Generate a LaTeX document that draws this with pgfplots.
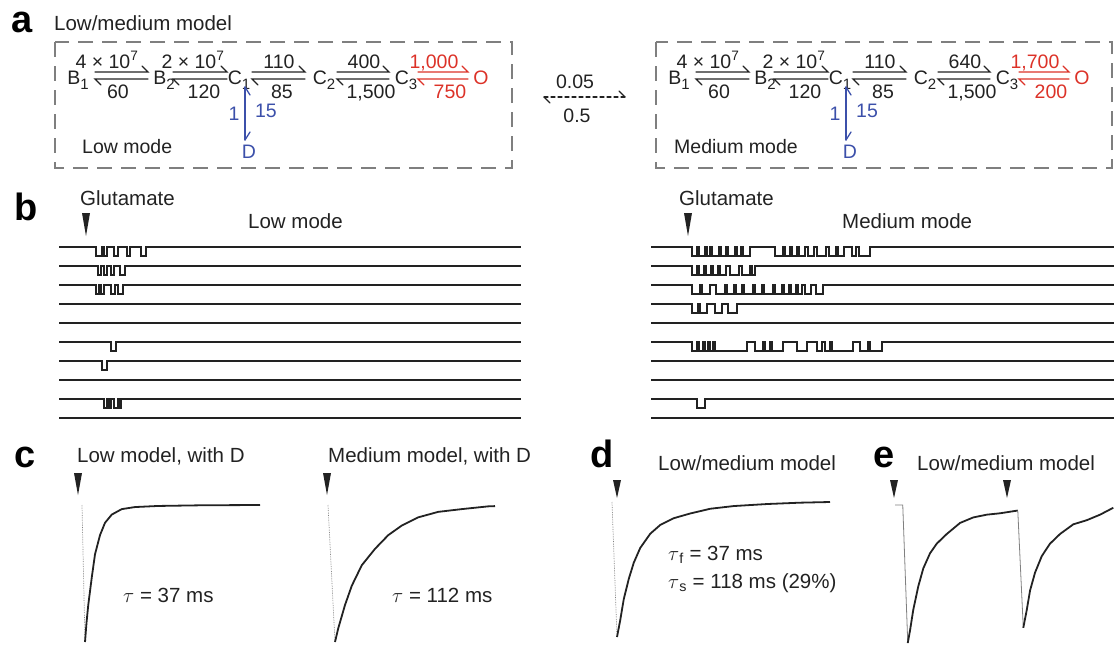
\documentclass[border=0pt]{standalone}
\usepackage{fontspec}
\setmainfont{Liberation Sans}
\usepackage{pgfplots}
\pgfplotsset{compat=1.18}

\definecolor{ink}{HTML}{222222}
\definecolor{rrate}{HTML}{DC3228}
\definecolor{brate}{HTML}{3C50AA}
\definecolor{boxgray}{HTML}{7F7F7F}

\newcommand\sub[1]{\raisebox{-0.5ex}{\fontsize{15}{15}\selectfont #1}}

\tikzset{
  lab/.style={font=\fontsize{20.5}{24}\selectfont, text=ink, inner sep=0pt, anchor=base west},
  sch/.style={font=\fontsize{19.5}{22}\selectfont, text=ink, inner sep=0pt, anchor=base},
  big/.style={font=\fontsize{38}{40}\selectfont\bfseries, inner sep=0pt, anchor=base west},
  harp/.style={line width=1.3pt, line cap=round},
}
\pgfplotsset{
  panel/.style={anchor=south west, scale only axis, hide axis, clip=false},
  trace/.style={ink, line width=1.8pt, line join=round},
  onset/.style={gray, line width=0.7pt, densely dotted},
  chan/.style={const plot, ink, line width=2.4pt},
}

% forward / backward harpoons with their rates
\newcommand\rxn[7]{%
  \draw[harp,#7] (#1,-72) -- (#2,-72) -- ++(-6,6);
  \draw[harp,#7] (#2,-79) -- (#1,-79) -- ++(6,-6);
  \node[sch,text=#7] at (#4,-68) {#3};
  \node[sch,text=#7] at (#6,-98) {#5};}

% one kinetic scheme: shift, C2->C3, C3->O, O->C3, mode name, its x
\newcommand\scheme[6]{%
\begin{scope}[xshift=#1pt]
  \node[sch] at (78,-84) {B\sub{1}};
  \node[sch] at (164,-84) {B\sub{2}};
  \node[sch] at (239,-84) {C\sub{1}};
  \node[sch] at (324,-84) {C\sub{2}};
  \node[sch] at (406,-84) {C\sub{3}};
  \node[sch,text=rrate] at (481,-84) {O};
  \rxn{95}{148}{4 × 10\textsuperscript{7}}{107}{60}{118}{ink}
  \rxn{173}{227}{2 × 10\textsuperscript{7}}{193}{120}{204}{ink}
  \rxn{252}{305}{110}{279}{85}{282}{ink}
  \rxn{337}{389}{#2}{364}{1,500}{371}{ink}
  \rxn{418}{468}{#3}{434}{#4}{450}{rrate}
  \draw[harp,brate] (245,-87) -- (245,-140);
  \draw[harp,brate] (245,-87) -- (250,-95);
  \draw[harp,brate] (245,-140) -- (250,-132);
  \node[sch,text=brate] at (234,-120) {1};
  \node[sch,text=brate] at (266,-117) {15};
  \node[sch,text=brate] at (249,-158) {D};
  \node[sch,anchor=base west] at (#6,-153) {#5};
\end{scope}}

\newcommand\glu[3]{\fill[ink] (#1-4,-#2) -- (#1+4,-#2) -- (#1,-#3) -- cycle;}

\begin{document}
\begin{tikzpicture}
\begin{scope}[x=1pt,y=1pt]
\useasboundingbox (0,0) rectangle (1117,-648);

% ---------------- panel a ----------------
\node[big] at (11,-32) {a};
\node[lab] at (54,-30) {Low/medium model};
\draw[boxgray, line width=2pt, dash pattern=on 15pt off 9pt] (55,-42) rectangle (512,-168);
\draw[boxgray, line width=2pt, dash pattern=on 15pt off 9pt] (656,-42) rectangle (1112,-168);
\scheme{0}{400}{1,000}{750}{Low mode}{82}
\scheme{601}{640}{1,700}{200}{Medium mode}{73}

\node[sch] at (575,-88) {0.05};
\node[sch] at (577,-122) {0.5};
\draw[harp, ink, dash pattern=on 4pt off 3pt] (544,-97) -- (625,-97);
\draw[harp, ink] (625,-97) -- (619,-91);
\draw[harp, ink] (544,-97) -- (550,-103);

% ---------------- panel b ----------------
\node[big] at (14,-220) {b};
\node[lab] at (80,-205) {Glutamate};
\glu{86}{213}{236}
\node[lab] at (248,-228) {Low mode};
\node[lab] at (679,-205) {Glutamate};
\glu{688}{213}{236}
\node[lab] at (842,-228) {Medium mode};

% ---------------- panel c ----------------
\node[big] at (14,-467) {c};
\node[lab] at (77,-462) {Low model, with D};
\glu{78}{473}{495}
\node[lab] at (328,-462) {Medium model, with D};
\glu{327}{473}{495}
\node[lab] at (123,-602) {$\tau$ = 37 ms};
\node[lab] at (392,-602) {$\tau$ = 112 ms};

% ---------------- panel d ----------------
\node[big] at (590,-467) {d};
\node[lab] at (658,-470) {Low/medium model};
\glu{617}{480}{498}
\node[lab] at (668,-560) {$\tau$\textsubscript{f} = 37 ms};
\node[lab] at (668,-588) {$\tau$\textsubscript{s} = 118 ms (29\%)};

% ---------------- panel e ----------------
\node[big] at (873,-467) {e};
\node[lab] at (917,-470) {Low/medium model};
\glu{894}{480}{498}
\glu{1007}{480}{498}
\end{scope}

% single-channel sweeps, low mode: time in ms, one row per sweep
\begin{axis}[panel, at={(59pt,-427.5pt)}, width=462pt, height=190pt,
  xmin=-54, xmax=870, ymin=-19, ymax=1]
\addplot[chan] coordinates {(-54,0)(20,-0.95)(32,0)(36,-0.95)(42,0)(56,-0.95)(64,0)(82,-0.95)(88,0)(110,-0.95)(120,0)(870,0)};
\addplot[chan] coordinates {(-54,-2)(24,-2.95)(30,-2)(36,-2.95)(42,-2)(50,-2.95)(56,-2)(68,-2.95)(78,-2)(870,-2)};
\addplot[chan] coordinates {(-54,-4)(20,-4.95)(26,-4)(30,-4.95)(36,-4)(50,-4.95)(58,-4)(64,-4.95)(74,-4)(870,-4)};
\addplot[chan] coordinates {(-54,-6)(870,-6)};
\addplot[chan] coordinates {(-54,-8)(870,-8)};
\addplot[chan] coordinates {(-54,-10)(50,-10.95)(60,-10)(870,-10)};
\addplot[chan] coordinates {(-54,-12)(32,-12.95)(42,-12)(870,-12)};
\addplot[chan] coordinates {(-54,-14)(870,-14)};
\addplot[chan] coordinates {(-54,-16)(36,-16.95)(42,-16)(46,-16.95)(50,-16)(56,-16.95)(64,-16)(66,-16.95)(70,-16)(870,-16)};
\addplot[chan] coordinates {(-54,-18)(870,-18)};
\end{axis}

% medium mode
\begin{axis}[panel, at={(651pt,-427.5pt)}, width=463pt, height=190pt,
  xmin=-74, xmax=852, ymin=-19, ymax=1]
\addplot[chan] coordinates {(-74,0)(8,-0.95)(18,0)(22,-0.95)(34,0)(38,-0.95)(44,0)(48,-0.95)(62,0)(66,-0.95)(76,0)(80,-0.95)(94,0)(98,-0.95)(106,0)(110,-0.95)(124,0)(174,-0.95)(190,0)(194,-0.95)(204,0)(208,-0.95)(218,0)(222,-0.95)(234,0)(240,-0.95)(252,0)(258,-0.95)(276,0)(282,-0.95)(296,0)(300,-0.95)(312,0)(328,-0.95)(336,0)(342,-0.95)(364,0)(852,0)};
\addplot[chan] coordinates {(-74,-2)(8,-2.95)(18,-2)(22,-2.95)(32,-2)(36,-2.95)(46,-2)(50,-2.95)(60,-2)(64,-2.95)(76,-2)(84,-2.95)(102,-2)(108,-2.95)(124,-2)(128,-2.95)(134,-2)(852,-2)};
\addplot[chan] coordinates {(-74,-4)(8,-4.95)(24,-4)(28,-4.95)(44,-4)(56,-4.95)(74,-4)(78,-4.95)(92,-4)(96,-4.95)(108,-4)(112,-4.95)(130,-4)(134,-4.95)(148,-4)(152,-4.95)(170,-4)(174,-4.95)(188,-4)(192,-4.95)(202,-4)(206,-4.95)(216,-4)(220,-4.95)(228,-4)(234,-4.95)(246,-4)(256,-4.95)(270,-4)(852,-4)};
\addplot[chan] coordinates {(-74,-6)(8,-6.95)(20,-6)(24,-6.95)(38,-6)(54,-6.95)(68,-6)(80,-6.95)(98,-6)(852,-6)};
\addplot[chan] coordinates {(-74,-8)(852,-8)};
\addplot[chan] coordinates {(-74,-10)(8,-10.95)(18,-10)(22,-10.95)(30,-10)(34,-10.95)(40,-10)(44,-10.95)(50,-10)(54,-10.95)(118,-10)(134,-10.95)(150,-10)(154,-10.95)(164,-10)(168,-10.95)(190,-10)(218,-10.95)(238,-10)(258,-10.95)(268,-10)(274,-10.95)(284,-10)(288,-10.95)(330,-10)(344,-10.95)(360,-10)(364,-10.95)(388,-10)(852,-10)};
\addplot[chan] coordinates {(-74,-12)(852,-12)};
\addplot[chan] coordinates {(-74,-14)(852,-14)};
\addplot[chan] coordinates {(-74,-16)(18,-16.95)(34,-16)(852,-16)};
\addplot[chan] coordinates {(-74,-18)(852,-18)};
\end{axis}

% panel c: normalised current, time in ms
\begin{axis}[panel, at={(82pt,-642pt)}, width=178pt, height=137pt,
  xmin=0, xmax=712, ymin=-1, ymax=0]
\addplot[onset] coordinates {(0,0)(12,-1)};
\addplot[trace] coordinates {(12,-1)(18,-0.86)(25,-0.73)(39,-0.53)(52,-0.36)(72,-0.22)(92,-0.13)(119,-0.07)(159,-0.03)(212,-0.015)(304,-0.007)(480,-0.002)(712,0)};
\end{axis}

\begin{axis}[panel, at={(328pt,-642pt)}, width=167pt, height=137pt,
  xmin=0, xmax=668, ymin=-1, ymax=0]
\addplot[onset] coordinates {(0,0)(28,-1)};
\addplot[trace] coordinates {(28,-1)(41,-0.90)(68,-0.73)(95,-0.59)(135,-0.44)(188,-0.32)(241,-0.22)(295,-0.15)(361,-0.09)(441,-0.05)(535,-0.03)(640,-0.01)(668,-0.008)};
\end{axis}

% panel d
\begin{axis}[panel, at={(612pt,-637pt)}, width=218pt, height=135pt,
  xmin=0, xmax=872, ymin=-1, ymax=0]
\addplot[onset] coordinates {(0,0)(20,-1)};
\addplot[trace] coordinates {(20,-1)(33,-0.875)(47,-0.72)(67,-0.57)(87,-0.45)(113,-0.34)(153,-0.235)(193,-0.17)(247,-0.12)(313,-0.085)(393,-0.05)(487,-0.03)(620,-0.015)(752,-0.005)(872,0)};
\end{axis}

% panel e: paired pulses
\begin{axis}[panel, at={(895pt,-643pt)}, width=218.3pt, height=138pt,
  xmin=0, xmax=873, ymin=-1, ymax=0]
\addplot[gray, line width=0.8pt] coordinates {(0,0)(31,0)(51,-1)};
\addplot[trace] coordinates {(51,-1)(60,-0.91)(73,-0.76)(93,-0.59)(113,-0.46)(140,-0.35)(167,-0.28)(207,-0.21)(260,-0.13)(313,-0.09)(367,-0.07)(420,-0.06)(491,-0.04)};
\addplot[gray, line width=0.8pt] coordinates {(491,-0.04)(513,-0.89)};
\addplot[trace] coordinates {(513,-0.89)(527,-0.76)(540,-0.62)(560,-0.49)(587,-0.37)(620,-0.28)(660,-0.21)(713,-0.14)(767,-0.11)(820,-0.07)(873,-0.02)};
\end{axis}

\end{tikzpicture}
\end{document}
